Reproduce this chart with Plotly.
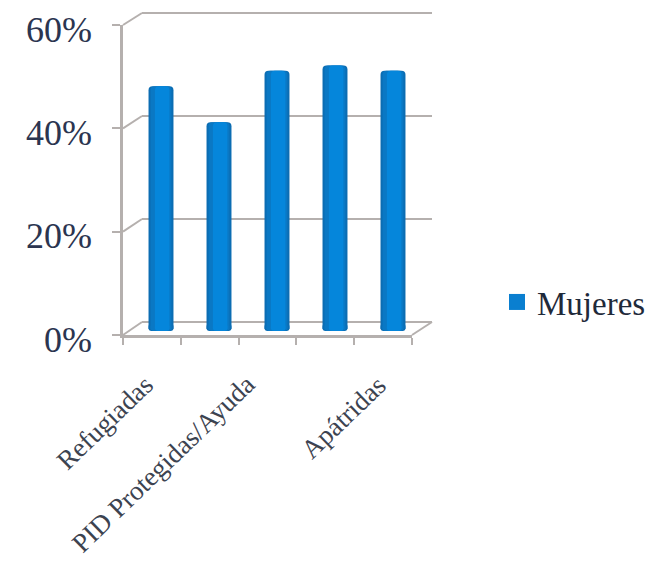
import plotly.graph_objects as go

W, H = 654, 562

# Chart data
categories = ["Refugiadas", "Solicitantes de asilo", "PID Protegidas/Ayuda", "Retornadas", "Apátridas"]
mujeres = [47, 40, 50, 51, 50]
y_ticks = [0, 20, 40, 60]
y_tick_labels = ["0%", "20%", "40%", "60%"]
labelled = ["Refugiadas", "PID Protegidas/Ayuda", "Apátridas"]
label_shift = [-10, -24, -8]

FONT = "Liberation Serif"
GRID = "#b5b0ae"
INK = "#2b3550"


def fx(px):
    return px / W


def fy(px):
    return 1 - px / H


def dom_x(a, b):
    return [fx(a), fx(b)]


def dom_y(bottom, top):
    return [fy(bottom), fy(top)]


fig = go.Figure()

# Back wall: carries the gridlines, set back from the front axes
fig.add_trace(go.Scatter(x=[None], y=[None], xaxis="x", yaxis="y", showlegend=False))
# Front axes: carries the tick marks
fig.add_trace(go.Scatter(x=[None], y=[None], xaxis="x2", yaxis="y2", showlegend=False))

# Cylinders: nested bars from the dark rim to the bright core, each with a rounded foot
layers = [(0.43, "#0b6db3", 0.0), (0.36, "#0a78c4", 0.0), (0.25, "#0586db", 0.02)]
for width, colour, offset in layers:
    fig.add_trace(go.Bar(
        x=categories, y=[-1.4] * len(categories), base=[1] * len(categories),
        width=width, offset=-width / 2 + offset,
        marker=dict(color=colour, line_width=0, cornerradius=5),
        xaxis="x3", yaxis="y3", showlegend=False, hoverinfo="skip",
    ))
    fig.add_trace(go.Bar(
        x=categories, y=mujeres,
        width=width, offset=-width / 2 + offset,
        marker=dict(color=colour, line_width=0, cornerradius=4),
        xaxis="x3", yaxis="y3", showlegend=False,
    ))

# Legend entry
fig.add_trace(go.Scatter(
    x=[None], y=[None], mode="markers", name="Mujeres",
    marker=dict(symbol="square", size=17, color="#0a7fd0"),
    xaxis="x3", yaxis="y3",
))

# Value labels sit on their own axis, a few pixels below the tick marks
fig.add_trace(go.Scatter(x=[None], y=[None], xaxis="x4", yaxis="y4", showlegend=False))

# Depth connectors between the front axes and the back wall
FRONT_X, BACK_X, BACK_END, FRONT_END = 123, 142, 432, 412
FRONT_0, FRONT_60 = 335, 25
BACK_0, BACK_60 = 322, 13
LABEL_DROP = 4
PAD = 2  # axis padding, in percent, so the edge gridlines are kept
back_scale = (BACK_0 - BACK_60) / 60
shapes = []
for t in y_ticks:
    yf = FRONT_0 + (FRONT_60 - FRONT_0) * t / 60
    yb = BACK_0 + (BACK_60 - BACK_0) * t / 60
    shapes.append(dict(type="line", xref="paper", yref="paper",
                       x0=fx(FRONT_X), y0=fy(yf), x1=fx(BACK_X), y1=fy(yb),
                       line=dict(color=GRID, width=2)))
shapes.append(dict(type="line", xref="paper", yref="paper",
                   x0=fx(FRONT_END), y0=fy(FRONT_0), x1=fx(BACK_END), y1=fy(BACK_0),
                   line=dict(color=GRID, width=2)))

annotations = [
    dict(text=name, x=name, xref="x3", y=fy(367), yref="paper",
         xanchor="right", yanchor="top", textangle=-44, showarrow=False,
         xshift=shift + 10, font=dict(family=FONT, size=27, color="#3c4350"))
    for name, shift in zip(labelled, label_shift)
]

bar_scale = 310 / 60
bar_zero = 329

fig.update_layout(
    width=W, height=H, autosize=False,
    margin=dict(l=0, r=0, t=0, b=0, autoexpand=False),
    paper_bgcolor="white", plot_bgcolor="rgba(0,0,0,0)",
    barmode="overlay",
    showlegend=True,
    legend=dict(x=fx(497), y=fy(302), xanchor="left", yanchor="middle",
                font=dict(family=FONT, size=33, color="#1f2a3a"),
                bgcolor="rgba(0,0,0,0)", itemwidth=30),
    shapes=shapes,
    annotations=annotations,
    xaxis=dict(domain=dom_x(BACK_X, BACK_END), anchor="y", range=[0, 1], visible=False),
    yaxis=dict(domain=dom_y(BACK_0 + PAD * back_scale, BACK_60 - PAD * back_scale),
               anchor="x", range=[-PAD, 60 + PAD],
               tickvals=y_ticks, showticklabels=False, ticks="",
               showgrid=True, gridcolor=GRID, gridwidth=2,
               zeroline=False, showline=False),
    xaxis2=dict(domain=dom_x(FRONT_X, FRONT_END), anchor="y2", range=[0, 5],
                tickvals=[0, 1, 2, 3, 4, 5], showticklabels=False,
                ticks="outside", ticklen=7, tickwidth=2, tickcolor=GRID,
                showline=True, linecolor=GRID, linewidth=3,
                showgrid=False, zeroline=False),
    yaxis2=dict(domain=dom_y(FRONT_0, FRONT_60), anchor="x2", range=[0, 60],
                tickvals=y_ticks, showticklabels=False,
                ticks="outside", ticklen=8, tickwidth=2, tickcolor=GRID,
                showline=True, linecolor=GRID, linewidth=3,
                showgrid=False, zeroline=False),
    xaxis3=dict(domain=dom_x(132, 422), anchor="y3", type="category",
                categoryorder="array", categoryarray=categories,
                range=[-0.5, 4.5], visible=False),
    yaxis3=dict(domain=dom_y(bar_zero + PAD * bar_scale, bar_zero - 60 * bar_scale),
                anchor="x3", range=[-PAD, 60], visible=False),
    xaxis4=dict(domain=dom_x(FRONT_X, FRONT_END), anchor="y4", range=[0, 5], visible=False),
    yaxis4=dict(domain=dom_y(FRONT_0 + LABEL_DROP, FRONT_60 + LABEL_DROP), anchor="x4",
                range=[0, 60], tickvals=y_ticks, ticktext=y_tick_labels,
                ticks="", ticklabelstandoff=30,
                tickfont=dict(family=FONT, size=36, color=INK),
                showline=False, showgrid=False, zeroline=False),
)

fig.write_html("out.html")
